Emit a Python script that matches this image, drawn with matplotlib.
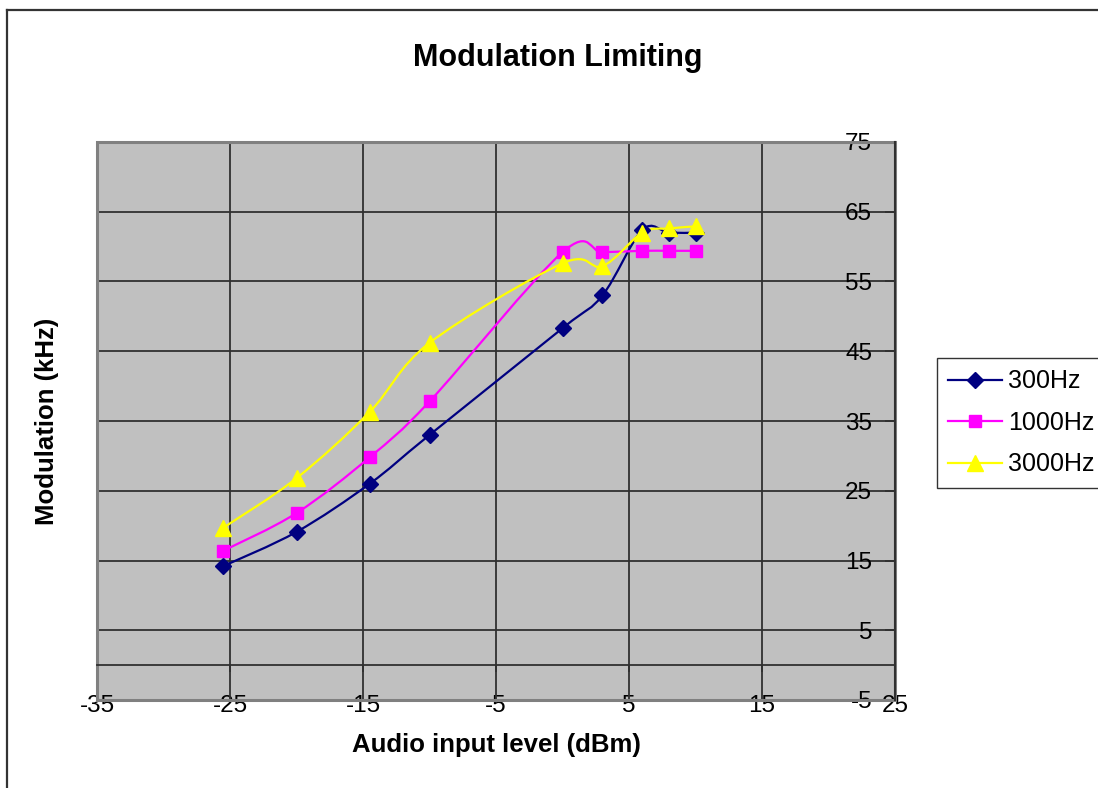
import matplotlib
matplotlib.use("Agg")
import matplotlib.pyplot as plt
from matplotlib.path import Path
from matplotlib.patches import PathPatch, Rectangle
from matplotlib.lines import Line2D
import numpy as np

plt.rcParams['font.family'] = ['Liberation Sans', 'DejaVu Sans']
plt.rcParams['axes.unicode_minus'] = False

# ---- data ----
input_level = [-25.5, -20, -14.5, -10, 0, 3, 6, 8, 10]
mod_300 = [14.2, 19.1, 26.0, 33.0, 48.3, 53.0, 62.4, 62.0, 62.0]
mod_1000 = [16.4, 21.8, 29.8, 37.8, 59.2, 59.2, 59.4, 59.4, 59.4]
mod_3000 = [19.7, 26.8, 36.3, 46.2, 57.6, 57.2, 62.0, 62.6, 62.9]
series_names = ['300Hz', '1000Hz', '3000Hz']
x_ticks = [-35, -25, -15, -5, 5, 15, 25]
y_ticks = [-5, 5, 15, 25, 35, 45, 55, 65, 75]

colors = ['#000080', '#FF00FF', '#FFFF00']
markers = ['D', 's', '^']
msizes = [8, 9, 11]

fig = plt.figure(figsize=(10.98, 7.88), dpi=100)
ax = fig.add_axes([97/1098, 88/788, 798/1098, 558/788])
ax.set_facecolor('#C0C0C0')
ax.set_xlim(-35, 25)
ax.set_ylim(-5, 75)


def smooth_path(xs, ys):
    pts = np.column_stack([xs, ys]).astype(float)
    n = len(pts)
    verts = [pts[0]]
    codes = [Path.MOVETO]
    for i in range(n - 1):
        p0 = pts[i - 1] if i > 0 else pts[i]
        p1 = pts[i]
        p2 = pts[i + 1]
        p3 = pts[i + 2] if i + 2 < n else pts[i + 1]
        c1 = p1 + (p2 - p0) / 6.0
        c2 = p2 - (p3 - p1) / 6.0
        verts += [c1, c2, p2]
        codes += [Path.CURVE4] * 3
    return Path(verts, codes)


all_series = [mod_300, mod_1000, mod_3000]
for ys, c, m, ms in zip(all_series, colors, markers, msizes):
    patch = PathPatch(smooth_path(input_level, ys), facecolor='none',
                      edgecolor=c, lw=1.6, zorder=3)
    ax.add_patch(patch)
    ax.plot(input_level, ys, linestyle='none', marker=m, ms=ms,
            color=c, markeredgecolor=c, zorder=4)

# grid
ax.set_xticks(x_ticks)
ax.set_yticks(y_ticks)
ax.grid(True, color='#303030', lw=1.3)
ax.set_axisbelow(True)

# spines
for s in ['top', 'right']:
    ax.spines[s].set_visible(False)
ax.spines['bottom'].set_position(('data', 0))
ax.spines['bottom'].set_color('#303030')
ax.spines['bottom'].set_linewidth(1.3)
ax.spines['left'].set_position(('data', 25))
ax.spines['left'].set_color('#303030')
ax.spines['left'].set_linewidth(1.5)

ax.tick_params(axis='x', direction='out', length=5, width=1.3,
               color='#303030', labelbottom=False)
ax.tick_params(axis='y', direction='out', length=7, width=1.3,
               color='#303030', pad=9.5, labelsize=17.5)

border = Rectangle((0, 0), 1, 1, transform=ax.transAxes, fill=False,
                   edgecolor='#808080', lw=2.2, clip_on=False, zorder=2.5)
ax.add_patch(border)

sec = ax.secondary_xaxis('bottom')
sec.set_xticks(x_ticks)
sec.tick_params(length=0, pad=-3.5, labelsize=17.5)
sec.spines['bottom'].set_visible(False)

# titles
fig.text(558/1098, 1 - 58/788, 'Modulation Limiting', ha='center',
         va='center', fontsize=22, fontweight='bold')
fig.text(496/1098, 1 - 745/788, 'Audio input level (dBm)', ha='center',
         va='center', fontsize=18.5, fontweight='bold')
fig.text(47/1098, 1 - 421/788, 'Modulation (kHz)', ha='center',
         va='center', rotation=90, fontsize=18.5, fontweight='bold')

# legend
handles = [Line2D([], [], color=c, marker=m, ms=ms, lw=1.6,
                  markeredgecolor=c)
           for c, m, ms in zip(colors, markers, msizes)]
leg = fig.legend(handles, series_names, loc='upper left',
                 bbox_to_anchor=(937/1098, 1 - 358/788), fontsize=18,
                 frameon=True, fancybox=False, handlelength=2.15,
                 handletextpad=0.25, labelspacing=0.7, borderpad=0.45,
                 borderaxespad=0)
leg.get_frame().set_edgecolor('#000000')
leg.get_frame().set_linewidth(1.0)

# chart area border (left and top visible)
fig.add_artist(Line2D([7/1098, 7/1098], [0, 1 - 10/788],
                      transform=fig.transFigure, color='#333333', lw=1.6))
fig.add_artist(Line2D([7/1098, 1], [1 - 10/788, 1 - 10/788],
                      transform=fig.transFigure, color='#333333', lw=1.6))

fig.savefig('out.png', dpi=100)
